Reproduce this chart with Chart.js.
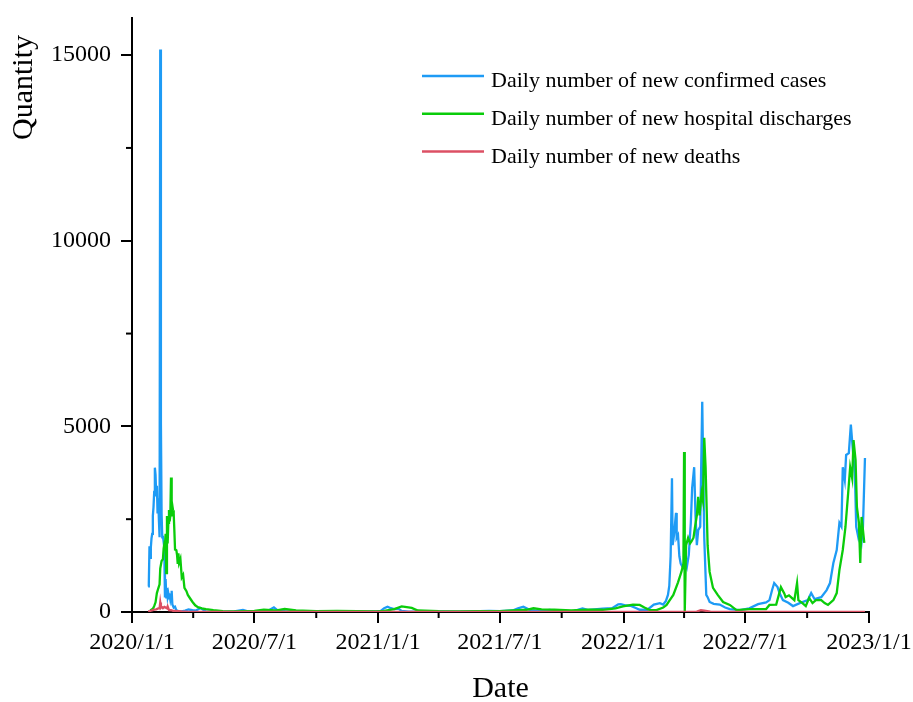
<!DOCTYPE html>
<html>
<head>
<meta charset="utf-8">
<title>Daily new cases</title>
<script src="https://cdn.jsdelivr.net/npm/chart.js@4.4.1/dist/chart.umd.min.js"></script>
<style>
  html, body { margin: 0; padding: 0; background: #fff; }
  #wrap { width: 913px; height: 702px; }
</style>
</head>
<body>
<div id="wrap"><canvas id="chart"></canvas></div>
<script>
// labels
const seriesNames = [
  "Daily number of new confirmed cases",
  "Daily number of new hospital discharges",
  "Daily number of new deaths",
];
const seriesColors = ["#1E9BF5", "#0ACC0A", "#DC5064"];
const xTickDates = ["2020/1/1", "2020/7/1", "2021/1/1", "2021/7/1", "2022/1/1", "2022/7/1", "2023/1/1"];
const xMinorDates = ["2020/4/1", "2020/10/1", "2021/4/1", "2021/10/1", "2022/4/1", "2022/10/1"];
const yTicks = [0, 5000, 10000, 15000];
const yMinorTicks = [2500, 7500, 12500];

// new confirmed cases
const confirmedDates = [
  "2020/1/25", "2020/1/26", "2020/1/27", "2020/1/28", "2020/1/29", "2020/1/30", "2020/1/31",
  "2020/2/1", "2020/2/2", "2020/2/3", "2020/2/4", "2020/2/5", "2020/2/6", "2020/2/7",
  "2020/2/8", "2020/2/9", "2020/2/10", "2020/2/11", "2020/2/12", "2020/2/13", "2020/2/14",
  "2020/2/15", "2020/2/16", "2020/2/17", "2020/2/18", "2020/2/19", "2020/2/20", "2020/2/21",
  "2020/2/22", "2020/2/23", "2020/2/24", "2020/2/25", "2020/2/26", "2020/2/27", "2020/2/28",
  "2020/2/29", "2020/3/1", "2020/3/3", "2020/3/5", "2020/3/7", "2020/3/10", "2020/3/15",
  "2020/3/20", "2020/3/25", "2020/3/31", "2020/4/5", "2020/4/12", "2020/4/20", "2020/5/1",
  "2020/5/15", "2020/6/1", "2020/6/14", "2020/6/20", "2020/7/1", "2020/7/20", "2020/7/30",
  "2020/8/5", "2020/8/15", "2020/9/1", "2020/9/15", "2020/10/1", "2020/10/15", "2020/11/1",
  "2020/11/15", "2020/12/1", "2020/12/15", "2020/12/31",
  "2021/1/5", "2021/1/10", "2021/1/15", "2021/1/20", "2021/1/25", "2021/1/31", "2021/2/5",
  "2021/2/15", "2021/3/1", "2021/4/1", "2021/5/1", "2021/6/1", "2021/6/15", "2021/7/1",
  "2021/7/20", "2021/7/28", "2021/8/5", "2021/8/15", "2021/9/1", "2021/9/13", "2021/10/1",
  "2021/10/20", "2021/11/1", "2021/11/10", "2021/12/1", "2021/12/15", "2021/12/24", "2021/12/28",
  "2022/1/5", "2022/1/12", "2022/1/20", "2022/1/25", "2022/2/5", "2022/2/15", "2022/2/24",
  "2022/3/1", "2022/3/5", "2022/3/8", "2022/3/10", "2022/3/12", "2022/3/14", "2022/3/15",
  "2022/3/17", "2022/3/20", "2022/3/21", "2022/3/23", "2022/3/25", "2022/3/27", "2022/3/30",
  "2022/4/1", "2022/4/3", "2022/4/5", "2022/4/8", "2022/4/11", "2022/4/13", "2022/4/16",
  "2022/4/18", "2022/4/20", "2022/4/22", "2022/4/25", "2022/4/28", "2022/5/1", "2022/5/4",
  "2022/5/6", "2022/5/9", "2022/5/15", "2022/5/24", "2022/6/1", "2022/6/8", "2022/6/23",
  "2022/7/7", "2022/7/20", "2022/8/1", "2022/8/6", "2022/8/10", "2022/8/13", "2022/8/18",
  "2022/8/21", "2022/8/26", "2022/9/3", "2022/9/10", "2022/9/20", "2022/10/2", "2022/10/7",
  "2022/10/12", "2022/10/22", "2022/10/30", "2022/11/4", "2022/11/9", "2022/11/14", "2022/11/18",
  "2022/11/21", "2022/11/23", "2022/11/26", "2022/11/28", "2022/12/2", "2022/12/5", "2022/12/8",
  "2022/12/11", "2022/12/13", "2022/12/16", "2022/12/18", "2022/12/21", "2022/12/23", "2022/12/26",
];
const confirmedValues = [
  688, 769, 1771, 1459, 1737, 1982, 2102,
  2590, 2829, 3235, 3887, 3694, 3143, 3399,
  2656, 3062, 2478, 2015, 15152, 5090, 2641,
  2009, 2048, 1886, 1749, 394, 889, 397,
  648, 409, 508, 406, 433, 327, 427,
  573, 202, 119, 143, 44, 24, 16,
  39, 67, 48, 39, 108, 11, 12,
  5, 16, 57, 26, 3, 22, 127,
  37, 22, 10, 15, 20, 21, 25,
  15, 8, 12, 25,
  32, 103, 144, 103, 80, 92, 30,
  8, 10, 15, 8, 23, 30, 20,
  40, 100, 143, 50, 25, 59, 10,
  28, 93, 54, 91, 101, 207, 209,
  175, 165, 100, 60, 54, 200, 240,
  202, 300, 460, 700, 1500, 3600, 1800,
  2070, 2670, 2000, 2070, 1500, 1300, 1200,
  1350, 1300, 1200, 1540, 2400, 3340, 3900,
  2600, 1800, 2200, 2300, 5660, 2000, 460,
  400, 270, 220, 200, 120, 80, 50,
  100, 210, 260, 320, 600, 780, 670,
  510, 320, 250, 160, 240, 320, 510,
  350, 400, 590, 780, 1320, 1670, 2400,
  2300, 3900, 3560, 4230, 4280, 5050, 4360,
  3740, 2290, 2020, 2200, 1900, 2290, 4150,
];

// new hospital discharges
const dischargedDates = [
  "2020/1/28", "2020/2/1", "2020/2/3", "2020/2/5", "2020/2/7", "2020/2/9", "2020/2/11",
  "2020/2/12", "2020/2/14", "2020/2/16", "2020/2/17", "2020/2/18", "2020/2/19", "2020/2/20",
  "2020/2/21", "2020/2/22", "2020/2/23", "2020/2/24", "2020/2/25", "2020/2/26", "2020/2/27",
  "2020/2/28", "2020/2/29", "2020/3/1", "2020/3/2", "2020/3/3", "2020/3/4", "2020/3/5",
  "2020/3/6", "2020/3/7", "2020/3/8", "2020/3/9", "2020/3/10", "2020/3/11", "2020/3/13",
  "2020/3/15", "2020/3/17", "2020/3/19", "2020/3/22", "2020/3/24", "2020/3/28", "2020/3/31",
  "2020/4/4", "2020/4/8", "2020/4/14", "2020/4/20", "2020/5/1", "2020/5/15", "2020/6/1",
  "2020/7/1", "2020/7/15", "2020/8/1", "2020/8/15", "2020/9/1", "2020/10/1", "2020/11/1",
  "2020/12/1", "2020/12/31",
  "2021/1/10", "2021/1/25", "2021/2/5", "2021/2/10", "2021/2/20", "2021/3/1", "2021/4/1",
  "2021/5/1", "2021/6/1", "2021/7/1", "2021/8/10", "2021/8/20", "2021/9/1", "2021/9/20",
  "2021/10/15", "2021/11/10", "2021/12/1", "2021/12/20", "2021/12/31",
  "2022/1/15", "2022/1/25", "2022/2/1", "2022/2/9", "2022/2/19", "2022/3/1", "2022/3/6",
  "2022/3/10", "2022/3/16", "2022/3/23", "2022/3/28", "2022/3/31", "2022/4/1", "2022/4/2",
  "2022/4/4", "2022/4/7", "2022/4/10", "2022/4/12", "2022/4/15", "2022/4/17", "2022/4/20",
  "2022/4/22", "2022/4/24", "2022/4/27", "2022/4/29", "2022/5/1", "2022/5/3", "2022/5/6",
  "2022/5/9", "2022/5/14", "2022/5/21", "2022/5/29", "2022/6/8", "2022/6/18", "2022/7/7",
  "2022/8/1", "2022/8/6", "2022/8/16", "2022/8/23", "2022/8/28", "2022/8/30", "2022/9/4",
  "2022/9/12", "2022/9/16", "2022/9/18", "2022/9/24", "2022/9/29", "2022/10/4", "2022/10/9",
  "2022/10/14", "2022/10/22", "2022/10/27", "2022/11/1", "2022/11/9", "2022/11/14", "2022/11/18",
  "2022/11/23", "2022/11/27", "2022/12/1", "2022/12/4", "2022/12/7", "2022/12/9", "2022/12/12",
  "2022/12/14", "2022/12/17", "2022/12/19", "2022/12/21", "2022/12/23", "2022/12/25",
];
const dischargedValues = [
  43, 85, 157, 261, 510, 632, 744,
  1171, 1373, 1425, 1701, 1824, 1779, 2109,
  1049, 2589, 1845, 2398, 2750, 2444, 2589,
  3622, 2575, 2867, 2742, 2652, 2189, 1681,
  1678, 1661, 1535, 1297, 1578, 1318, 1430,
  930, 1000, 650, 560, 460, 350, 270,
  180, 130, 100, 80, 50, 20, 15,
  30, 60, 40, 80, 40, 25, 30,
  20, 15,
  30, 80, 150, 140, 110, 40, 20,
  15, 20, 20, 60, 100, 70, 60,
  40, 60, 60, 100, 150,
  200, 190, 120, 50, 50, 120, 190,
  300, 460, 800, 1080, 1300, 4310, 0,
  1800, 2000, 1850, 1900, 2000, 2260, 2600,
  3100, 2600, 3200, 3000, 4690, 3900, 1800,
  1080, 650, 460, 270, 190, 50, 80,
  80, 190, 200, 670, 500, 400, 450,
  320, 780, 320, 240, 160, 380, 240,
  320, 320, 240, 190, 320, 510, 1130,
  1670, 2290, 3200, 3900, 3600, 4630, 4100,
  2830, 2400, 1320, 2560, 2210, 1860,
];

// new deaths
const deathDates = [
  "2020/1/25", "2020/1/28", "2020/1/31", "2020/2/3", "2020/2/6", "2020/2/9", "2020/2/11",
  "2020/2/12", "2020/2/13", "2020/2/14", "2020/2/16", "2020/2/18", "2020/2/20", "2020/2/22",
  "2020/2/23", "2020/2/25", "2020/2/28", "2020/3/2", "2020/3/5", "2020/3/10", "2020/3/15",
  "2020/3/25", "2020/4/15", "2020/6/1", "2021/1/15", "2022/1/1", "2022/4/10", "2022/4/20",
  "2022/4/26", "2022/5/1", "2022/5/10", "2022/5/20", "2022/11/20", "2022/12/26",
];
const deathValues = [
  15, 26, 46, 64, 73, 97, 97,
  254, 121, 143, 105, 136, 118, 97,
  150, 52, 47, 31, 30, 22, 14,
  6, 1, 0, 1, 0, 2, 10,
  52, 40, 10, 1, 2, 5,
];

function dayIndex(s) {
  const [y, m, d] = s.split("/").map(Number);
  return (Date.UTC(y, m - 1, d) - Date.UTC(2020, 0, 1)) / 86400000;
}

function toPoints(dates, values) {
  return dates.map((d, i) => ({ x: dayIndex(d), y: values[i] }));
}

const serif = "'Liberation Serif', 'Times New Roman', serif";

// minor ticks, y title and legend drawn by hand
const extras = {
  id: "extras",
  afterDraw(chart) {
    const ctx = chart.ctx;
    const xs = chart.scales.x;
    const ys = chart.scales.y;
    const area = chart.chartArea;
    ctx.save();
    ctx.strokeStyle = "#000";
    ctx.lineWidth = 2;
    xMinorDates.forEach((d) => {
      const px = xs.getPixelForValue(dayIndex(d));
      ctx.beginPath();
      ctx.moveTo(px, area.bottom);
      ctx.lineTo(px, area.bottom + 6);
      ctx.stroke();
    });
    yMinorTicks.forEach((v) => {
      const py = ys.getPixelForValue(v);
      ctx.beginPath();
      ctx.moveTo(area.left - 6, py);
      ctx.lineTo(area.left, py);
      ctx.stroke();
    });

    // y axis title
    ctx.fillStyle = "#000";
    ctx.font = "30px " + serif;
    ctx.textBaseline = "alphabetic";
    ctx.textAlign = "left";
    ctx.translate(32, 140);
    ctx.rotate(-Math.PI / 2);
    ctx.fillText("Quantity", 0, 0);
    ctx.setTransform(1, 0, 0, 1, 0, 0);

    // legend
    ctx.font = "22px " + serif;
    chart.data.datasets.forEach((ds, i) => {
      const ly = 76 + i * 37.8;
      ctx.strokeStyle = ds.borderColor;
      ctx.lineWidth = 2.5;
      ctx.beginPath();
      ctx.moveTo(422, ly);
      ctx.lineTo(484, ly);
      ctx.stroke();
      ctx.fillStyle = "#000";
      ctx.fillText(ds.label, 491, ly + 11);
    });
    ctx.restore();
  },
};

new Chart(document.getElementById("chart"), {
  type: "line",
  data: {
    datasets: [
      {
        label: seriesNames[0],
        data: toPoints(confirmedDates, confirmedValues),
        borderColor: seriesColors[0],
        order: 2,
      },
      {
        label: seriesNames[1],
        data: toPoints(dischargedDates, dischargedValues),
        borderColor: seriesColors[1],
        order: 1,
      },
      {
        label: seriesNames[2],
        data: toPoints(deathDates, deathValues),
        borderColor: seriesColors[2],
        order: 0,
      },
    ],
  },
  options: {
    responsive: true,
    maintainAspectRatio: false,
    animation: false,
    layout: { padding: { top: 18, right: 44, left: 0, bottom: 0 } },
    elements: {
      line: { borderWidth: 2.3, tension: 0, fill: false },
      point: { radius: 0 },
    },
    plugins: {
      legend: { display: false },
      tooltip: { enabled: false },
    },
    scales: {
      x: {
        type: "linear",
        min: 0,
        max: dayIndex("2023/1/1"),
        afterBuildTicks: (scale) => {
          scale.ticks = xTickDates.map((d) => ({ value: dayIndex(d) }));
        },
        afterFit: (scale) => {
          scale.height = 90;
          scale.paddingLeft = 0;
          scale.paddingRight = 0;
        },
        ticks: {
          autoSkip: false,
          maxRotation: 0,
          minRotation: 0,
          padding: 5,
          color: "#000",
          font: { family: serif, size: 24 },
          callback: (value, index) => xTickDates[index],
        },
        grid: {
          drawOnChartArea: false,
          drawTicks: true,
          tickLength: 11,
          color: "#000",
          lineWidth: 2,
        },
        border: { display: true, color: "#000", width: 2 },
        title: {
          display: true,
          text: "Date",
          color: "#000",
          font: { family: serif, size: 30, lineHeight: 0.87 },
          padding: 0,
        },
      },
      y: {
        type: "linear",
        min: 0,
        max: 16000,
        afterBuildTicks: (scale) => {
          scale.ticks = yTicks.map((v) => ({ value: v }));
        },
        afterFit: (scale) => {
          scale.width = 132;
          scale.paddingTop = 0;
          scale.paddingBottom = 0;
        },
        ticks: {
          padding: 10,
          color: "#000",
          font: { family: serif, size: 24 },
          callback: (value) => String(value),
        },
        grid: {
          drawOnChartArea: false,
          drawTicks: true,
          tickLength: 11,
          color: "#000",
          lineWidth: 2,
        },
        border: { display: true, color: "#000", width: 2 },
      },
    },
  },
  plugins: [extras],
});
</script>
</body>
</html>
